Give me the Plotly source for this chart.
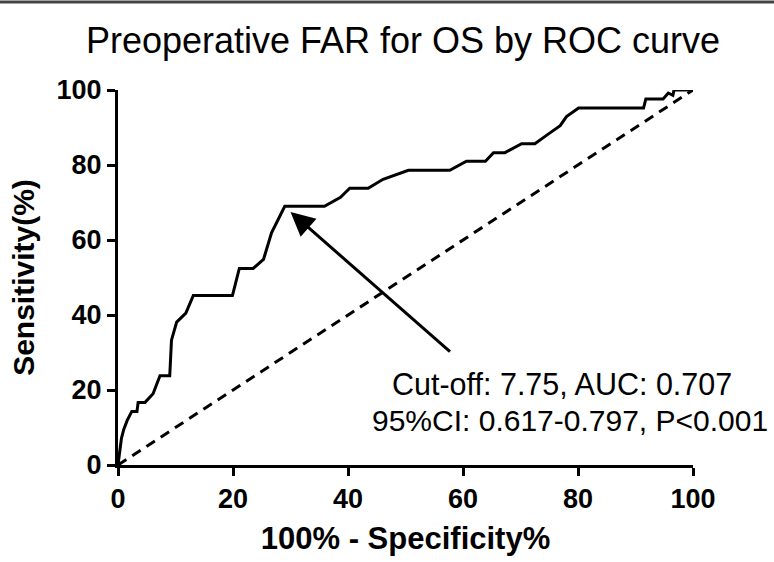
import plotly.graph_objects as go

# ROC curve points (x = 100% - Specificity%, y = Sensitivity%)
roc_x = [0, 0.4, 0.6, 1.0, 1.6, 2.4, 3.3, 3.5, 4.7, 6.1, 7.3, 9.0, 9.3, 10.2, 11.8, 13.1,
         19.9, 21.1, 23.5, 25.3, 26.7, 29.0, 35.9, 38.7, 40.3, 43.5, 46.1, 50.5, 57.7,
         60.6, 63.9, 65.3, 67.3, 70.2, 72.5, 74.7, 76.9, 78.0, 80.1, 91.4, 91.8, 94.8,
         95.7, 96.5, 96.7, 99.1, 100]
roc_y = [0, 4.8, 7.1, 9.5, 11.9, 14.3, 14.3, 16.7, 16.7, 19.0, 23.8, 23.8, 33.3, 38.1,
         40.5, 45.2, 45.2, 52.4, 52.4, 54.8, 61.9, 69.0, 69.0, 71.4, 73.8, 73.8, 76.2,
         78.6, 78.6, 81.0, 81.0, 83.3, 83.3, 85.7, 85.7, 88.1, 90.5, 92.9, 95.2, 95.2,
         97.6, 97.6, 99.2, 98.6, 100, 100, 100]

ref_x = [0, 100]
ref_y = [0, 100]

tick_vals = [0, 20, 40, 60, 80, 100]
tick_text = ["0", "20", "40", "60", "80", "100"]

cutoff_point = (30.0, 67.5)
arrow_tail = (58.0, 29.9)
label_line1 = "Cut-off: 7.75, AUC: 0.707"
label_line2 = "95%CI: 0.617-0.797, P<0.001"

FONT = "Liberation Sans, Arial, sans-serif"

fig = go.Figure()
fig.add_trace(go.Scatter(x=ref_x, y=ref_y, mode="lines",
                         line=dict(color="black", width=3, dash="10px,7px"),
                         cliponaxis=False, showlegend=False, hoverinfo="skip"))
fig.add_trace(go.Scatter(x=roc_x, y=roc_y, mode="lines",
                         line=dict(color="black", width=3),
                         cliponaxis=False, showlegend=False))

# Arrow
fig.add_annotation(x=cutoff_point[0], y=cutoff_point[1], ax=arrow_tail[0], ay=arrow_tail[1],
                   xref="x", yref="y", axref="x", ayref="y", text="",
                   showarrow=True, arrowhead=2, arrowsize=1.6, arrowwidth=3,
                   arrowcolor="black", standoff=0)
fig.add_annotation(x=77.2, y=21.6, xref="x", yref="y", text=label_line1, showarrow=False,
                   font=dict(family=FONT, size=30.5, color="black"), xanchor="center", yanchor="middle")
fig.add_annotation(x=78.6, y=11.9, xref="x", yref="y", text=label_line2, showarrow=False,
                   font=dict(family=FONT, size=30, color="black"), xanchor="center", yanchor="middle")

# top dark border seen in the reference
fig.add_shape(type="line", xref="paper", yref="paper",
              x0=-118 / 575, x1=(774 - 118) / 575, y0=1 + 89 / 379, y1=1 + 89 / 379,
              line=dict(color="#444444", width=3))

axis_common = dict(
    range=[0, 100], showline=True, linewidth=3, linecolor="black",
    ticks="outside", ticklen=8, tickwidth=3, tickcolor="black",
    tickvals=tick_vals, ticktext=tick_text, showgrid=False, zeroline=False,
    tickfont=dict(family=FONT, size=27, color="black", weight="bold"),
    fixedrange=True,
)

fig.update_layout(
    width=774, height=562,
    margin=dict(l=118, r=81, t=90, b=93),
    plot_bgcolor="white", paper_bgcolor="white",
    title=dict(text="Preoperative FAR for OS by ROC curve", x=403 / 774, xref="container",
               xanchor="center", y=1 - 40 / 562, yref="container", yanchor="middle",
               font=dict(family=FONT, size=36, color="black")),
    xaxis=dict(**axis_common, title=dict(text="100% - Specificity%", standoff=14,
                                         font=dict(family=FONT, size=31, color="black", weight="bold"))),
    yaxis=dict(**axis_common, title=dict(text="Sensitivity(%)", standoff=14,
                                         font=dict(family=FONT, size=30, color="black", weight="bold"))),
    showlegend=False,
)

fig.write_html("out.html", config={"displayModeBar": False},
               post_script="document.body.style.margin='0';")
